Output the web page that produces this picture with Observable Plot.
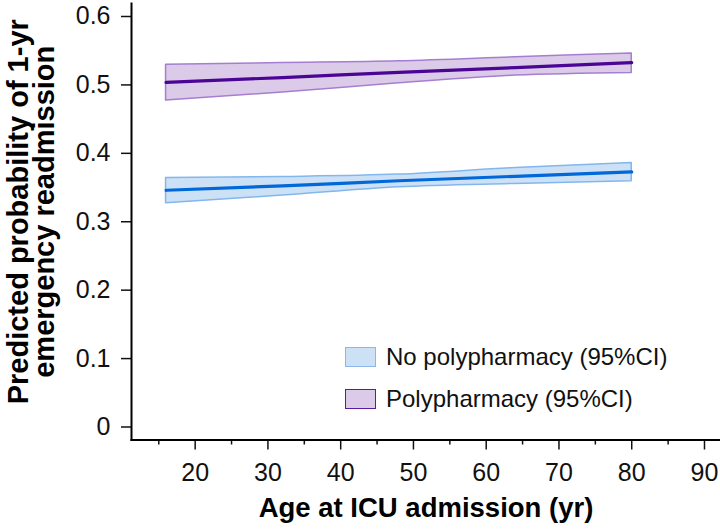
<!DOCTYPE html>
<html><head><meta charset="utf-8">
<script src="https://cdn.jsdelivr.net/npm/d3@7"></script>
<script src="https://cdn.jsdelivr.net/npm/@observablehq/plot@0.6"></script>
<style>
body{margin:0;background:#fff;font-family:"Liberation Sans",Arial,sans-serif}
#wrap{position:relative;width:720px;height:530px}
.item{position:absolute;left:345px;display:flex;align-items:center;height:20px;font-size:24px;line-height:20px;color:#111;white-space:nowrap}
.sw{width:31px;height:20px;margin-right:10px;box-sizing:border-box;border-width:1.5px;border-style:solid}
</style></head><body><div id="wrap"></div><script>
// Data
const ages = [16, 32, 48, 64, 80];
const noPolyFit = [0.3460, 0.3524, 0.3599, 0.3664, 0.3728];
const noPolyLo  = [0.3270, 0.3382, 0.3504, 0.3553, 0.3591];
const noPolyHi  = [0.3641, 0.3655, 0.3689, 0.3787, 0.3860];
const polyFit = [0.5038, 0.5107, 0.5184, 0.5253, 0.5326];
const polyLo  = [0.4771, 0.4890, 0.5023, 0.5136, 0.5175];
const polyHi  = [0.5296, 0.5320, 0.5345, 0.5403, 0.5461];
const groups = ["No polypharmacy (95%CI)", "Polypharmacy (95%CI)"];
const xTicks = [20, 30, 40, 50, 60, 70, 80, 90];
const xMinorTicks = [15, 25, 35, 45, 55, 65, 75, 85];
const yTicks = [0, 0.1, 0.2, 0.3, 0.4, 0.5, 0.6];
const xTitle = "Age at ICU admission (yr)";
const yTitle = "Predicted probability of 1-yr\nemergency readmission";

const colors = {
  [groups[0]]: {line: "#0068d8", fill: "#cde1f6", stroke: "#82b7ee", box: "#8ab8ec"},
  [groups[1]]: {line: "#4b0594", fill: "#dccbe8", stroke: "#a47fd1", box: "#5b1c9c"}
};

const rows = [];
ages.forEach((a, i) => {
  rows.push({age: a, group: groups[0], fit: noPolyFit[i], lo: noPolyLo[i], hi: noPolyHi[i]});
  rows.push({age: a, group: groups[1], fit: polyFit[i], lo: polyLo[i], hi: polyHi[i]});
});

const marks = [];
for (const g of groups) {
  const d = rows.filter(r => r.group === g);
  marks.push(Plot.areaY(d, {x: "age", y1: "lo", y2: "hi", fill: colors[g].fill, stroke: colors[g].stroke, strokeWidth: 1.5, curve: "monotone-x"}));
  marks.push(Plot.lineY(d, {x: "age", y: "fit", stroke: colors[g].line, strokeWidth: 3.2, curve: "monotone-x"}));
}

const chart = Plot.plot({
  width: 720, height: 530,
  marginLeft: 131, marginRight: 0, marginTop: 3, marginBottom: 90.5,
  style: {fontFamily: "'Liberation Sans', Arial, sans-serif", color: "#111", background: "#fff"},
  x: {domain: [11.25, 92.2]},
  y: {domain: [-0.019, 0.619]},
  marks: [
    ...marks,
    Plot.axisY(yTicks, {tickSize: 10, tickPadding: 11, fontSize: 25, strokeWidth: 1.5, label: null, tickFormat: d => d === 0 ? "0" : d.toFixed(1)}),
    Plot.axisX(xTicks, {tickSize: 10, tickPadding: 13, fontSize: 25, strokeWidth: 1.5, label: null, tickFormat: d => String(d)}),
    Plot.axisX(xMinorTicks, {tickSize: 5, strokeWidth: 1.5, label: null, tickFormat: () => ""}),
    Plot.frame({anchor: "left", stroke: "#000", strokeWidth: 2}),
    Plot.frame({anchor: "bottom", stroke: "#000", strokeWidth: 2}),
    Plot.text([xTitle], {frameAnchor: "bottom", dy: 77, fontSize: 27.5, fontWeight: "bold", fill: "#000"}),
    Plot.text([yTitle], {frameAnchor: "left", textAnchor: "middle", rotate: -90, dx: -99, dy: -10, fontSize: 29, fontWeight: "bold", lineHeight: 0.9, fill: "#000"})
  ]
});
const wrap = document.getElementById("wrap");
wrap.appendChild(chart);
groups.forEach((g, i) => {
  const it = document.createElement("div");
  it.className = "item";
  it.style.top = (347 + i * 42) + "px";
  const sw = document.createElement("span");
  sw.className = "sw";
  sw.style.background = colors[g].fill;
  sw.style.borderColor = colors[g].box;
  it.appendChild(sw);
  it.appendChild(document.createTextNode(g));
  wrap.appendChild(it);
});
</script></body></html>
